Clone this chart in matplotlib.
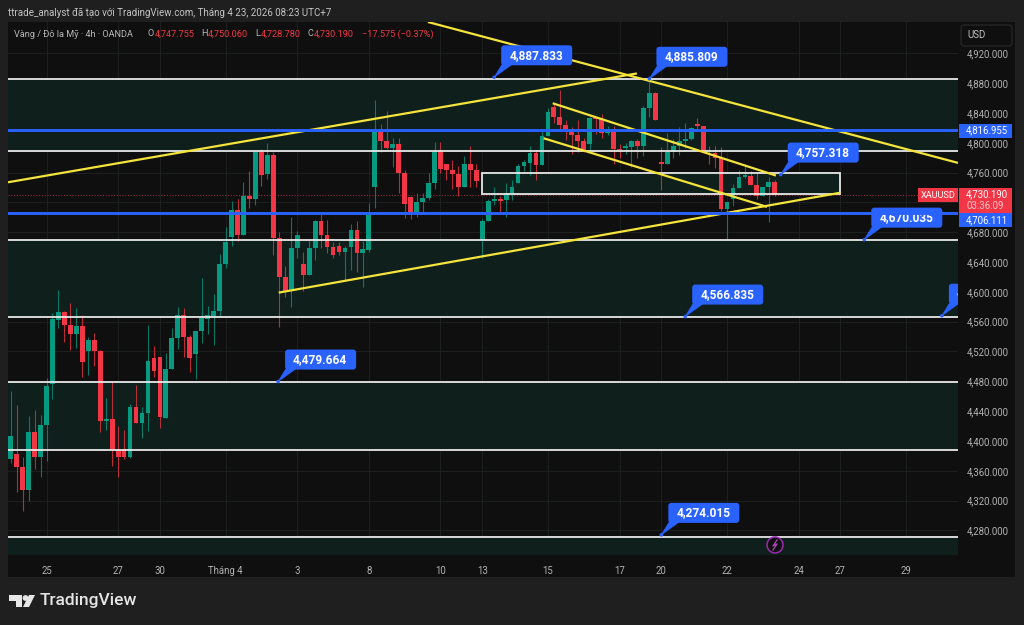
import matplotlib
matplotlib.use("Agg")
import matplotlib.pyplot as plt
from matplotlib.patches import Rectangle, FancyBboxPatch, Polygon, Circle
from matplotlib.transforms import IdentityTransform

plt.rcParams['font.family'] = ['Roboto', 'DejaVu Sans']

# 4h candles
opens = [4376,4383,4365,4334,4412,4379,4421,4477,4562,4573,4555,4544,4554,4521,4536,4520,4427,4429,4389,4389,
         4378,4446,4424,4438,4511,4512,4431,4497,4538,4569,4539,4517,4547,4564,4568,4574,4637,4674,4710,4676,
         4728,4724,4787,4758,4783,4672,4620,4602,4659,4637,4622,4659,4695,4676,4660,4662,4654,4660,4683,4652,
         4656,4741,4817,4803,4793,4799,4760,4727,4705,4720,4726,4746,4788,4771,4763,4758,4740,4771,4763,4670,
         4695,4722,4724,4723,4732,4746,4769,4773,4786,4770,4809,4848,4835,4824,4818,4811,4803,4798,4833,4832,
         4813,4815,4791,4793,4794,4802,4795,4846,4867,4774,4771,4788,4796,4803,4805,4825,4823,4788,4786,4779,
         4711,4725,4739,4754,4756,4744,4728,4741,4747.755]
highs = [4467,4448,4379,4434,4442,4435,4484,4571,4603,4574,4585,4579,4569,4539,4545,4522,4457,4480,4420,4415,
         4450,4475,4445,4555,4528,4513,4518,4551,4580,4578,4542,4547,4619,4581,4597,4651,4687,4722,4724,4747,
         4762,4789,4792,4800,4787,4680,4635,4700,4682,4654,4671,4697,4706,4697,4667,4667,4661,4691,4695,4668,
         4719,4857,4825,4843,4806,4806,4764,4728,4732,4732,4760,4801,4801,4771,4777,4769,4782,4795,4772,4698,
         4724,4740,4728,4746,4750,4771,4777,4796,4790,4819,4846,4854,4871,4830,4821,4830,4806,4834,4835,4838,
         4822,4823,4799,4800,4804,4805,4849,4889,4868,4794,4813,4805,4821,4827,4821,4833,4823,4796,4796,4794,
         4720,4745,4764,4771,4762,4760,4740,4754,4750.06]
lows = [4371,4331,4306,4320,4362,4351,4373,4456,4552,4533,4522,4525,4486,4489,4500,4412,4415,4367,4352,4376,
        4377,4424,4404,4414,4486,4418,4431,4497,4523,4513,4493,4483,4532,4544,4529,4568,4632,4662,4668,4676,
        4712,4716,4742,4752,4649,4553,4593,4580,4645,4601,4622,4643,4659,4652,4645,4649,4616,4629,4627,4607,
        4654,4713,4788,4791,4768,4732,4699,4698,4700,4704,4723,4738,4760,4750,4738,4729,4740,4740,4740,4645,
        4695,4716,4704,4701,4723,4746,4762,4757,4750,4770,4809,4826,4817,4804,4785,4788,4788,4790,4812,4806,
        4810,4772,4780,4785,4768,4779,4782,4835,4831,4737,4771,4779,4784,4793,4804,4818,4788,4772,4766,4708,
        4669,4715,4739,4753,4743,4724,4728,4694,4728.78]
closes = [4406,4365,4334,4412,4379,4421,4474,4563,4573,4555,4544,4554,4506,4536,4520,4427,4430,4388,4378,4378,
          4446,4424,4438,4507,4494,4432,4497,4538,4569,4539,4511,4547,4565,4569,4574,4637,4667,4710,4676,4728,
          4724,4787,4757,4783,4672,4620,4601,4659,4676,4622,4659,4695,4676,4660,4649,4654,4659,4683,4652,4657,
          4704,4817,4803,4793,4799,4760,4718,4706,4720,4726,4746,4788,4765,4763,4758,4740,4771,4763,4749,4695,
          4722,4724,4722,4732,4740,4769,4774,4786,4770,4809,4841,4835,4824,4818,4811,4803,4789,4833,4832,4813,
          4816,4791,4790,4795,4803,4795,4846,4867,4831,4772,4788,4796,4803,4805,4820,4823,4788,4787,4779,4711,
          4720,4739,4754,4757,4744,4728,4740,4747,4730.19]

price_ticks = list(range(4280, 4921, 40))
date_pos = [6, 18, 25, 36, 48, 60, 72, 79, 90, 102, 109, 120, 132, 139, 150]
date_labels = ['25', '27', '30', 'Tháng 4', '3', '8', '10', '13', '15', '17', '20', '22', '24', '27', '29']

white_levels = [4885.3, 4789, 4670, 4566.8, 4479.7, 4388, 4271]
blue_levels = [4816.955, 4706.111]
# zones shaded between the white levels
zones = [(4789, 4885.3), (4566.8, 4670), (4388, 4479.7), (4240, 4271)]
box_x = [79, 139]
box_p = [4731, 4759]

# yellow trend lines: bar, price, bar, price
trends = [(-0.45, 4747, 104.9, 4893),
          (69.9, 4962, 158.7, 4773),
          (90.8, 4853, 128.2, 4756),
          (89.3, 4806, 126.7, 4714),
          (44.9, 4599, 139, 4733)]

# price callouts: bar, price, text (the last one runs off the chart edge)
callouts = [(81, 4887.833, '4,887.833'), (107, 4885.809, '4,885.809'), (129, 4757.318, '4,757.318'),
            (143, 4670.035, '4,670.035'), (113, 4566.835, '4,566.835'), (44.8, 4479.664, '4,479.664'),
            (109, 4274.015, '4,274.015'), (156, 4568.0, '4')]

GREEN = '#089981'
RED = '#f23645'
BLUE = '#2962ff'
YELLOW = '#f4e43c'
BG = '#0f0f0f'
W, H = 1024, 625

fig = plt.figure(figsize=(W / 100, H / 100), dpi=100, facecolor='#1f1f1f')


def box(x0, y0, x1, y1):
    return [x0 / W, 1 - y1 / H, (x1 - x0) / W, (y1 - y0) / H]


back = fig.add_axes(box(8, 22, 1015, 576.5), facecolor=BG)
back.set_xticks([])
back.set_yticks([])
for s in back.spines.values():
    s.set_visible(False)

ax = fig.add_axes(box(8, 22, 958, 555), facecolor=BG)
ax.set_xlim(-0.45, 158.7)
ax.set_ylim(4247, 4962)
for s in ax.spines.values():
    s.set_visible(False)

ax.set_yticks(price_ticks)
# 4,720 sits behind the price tags in the picture
ax.set_yticklabels(['' if p == 4720 else '{:,.3f}'.format(p) for p in price_ticks])
ax.yaxis.tick_right()
ax.set_xticks(date_pos)
ax.set_xticklabels(date_labels)
ax.tick_params(axis='both', length=0, labelsize=6.9, labelcolor='#b2b2b2')
ax.tick_params(axis='y', pad=6)
ax.tick_params(axis='x', pad=8)
ax.grid(True, color='#1c2120', lw=0.7)
ax.set_axisbelow(True)

for lo, hi in zones:
    ax.axhspan(lo, hi, color='#0f1f1c', lw=0, zorder=1)
ax.add_patch(Rectangle((box_x[0], box_p[0]), box_x[1] - box_x[0], box_p[1] - box_p[0],
                       fc='#0f1f1c', ec='none', zorder=1))
ax.axhline(closes[-1], color='#8a2f3e', lw=0.8, ls=(0, (1, 1.5)), zorder=1.5)

# candles
for i in range(len(opens)):
    col = GREEN if closes[i] >= opens[i] else RED
    ax.vlines(i, lows[i], highs[i], color=col, lw=0.8, alpha=0.75, zorder=2)
    ax.bar(i, abs(closes[i] - opens[i]), bottom=min(opens[i], closes[i]), width=0.8,
           color=col, lw=0, zorder=3)

for lvl in white_levels:
    ax.axhline(lvl, color='#e8e8e8', lw=1.3, zorder=4)
ax.add_patch(Rectangle((box_x[0], box_p[0]), box_x[1] - box_x[0], box_p[1] - box_p[0],
                       fc='none', ec='#e8e8e8', lw=1.3, zorder=4))
for x0, p0, x1, p1 in trends:
    ax.plot([x0, x1], [p0, p1], color=YELLOW, lw=1.6, zorder=5, solid_capstyle='butt')


# callout: tail from the anchor point up to a rounded box
def callout(bar, price, text):
    x, y = ax.transData.transform((bar, price))
    tr = IdentityTransform()
    x0, x1 = x + 7, x + 78
    y0, y1 = y + 12, y + 32
    ax.add_patch(Polygon([(x, y), (x + 8, y0 + 1), (x + 18, y0 + 1)], fc=BLUE, ec=BLUE, lw=0.5,
                         transform=tr, zorder=6))
    ax.add_patch(FancyBboxPatch((x0 + 2, y0 + 2), x1 - x0 - 4, y1 - y0 - 4,
                                boxstyle='round,pad=2,rounding_size=3', fc=BLUE, ec='none',
                                transform=tr, zorder=6))
    ax.add_patch(Circle((x, y), 1.8, fc=BLUE, ec='none', transform=tr, zorder=6))
    ax.text(x0 + 8, (y0 + y1) / 2, text, color='white', fontsize=8.6, fontweight='bold',
            ha='left', va='center', transform=tr, zorder=6.5, clip_on=True)


for bar, price, text in callouts:
    callout(bar, price, text)

# blue levels sit on top of the callouts
for lvl in blue_levels:
    ax.axhline(lvl, color=BLUE, lw=2.1, zorder=7)

# overlay in pixels for the furniture around the chart
ov = fig.add_axes([0, 0, 1, 1], facecolor='none', zorder=10)
ov.set_xlim(0, W)
ov.set_ylim(H, 0)
ov.axis('off')

ov.text(8, 12.5, 'ttrade_analyst đã tạo với TradingView.com, Tháng 4 23, 2026 08:23 UTC+7',
        color='#c4c4c4', fontsize=7.0, va='center')
ov.text(14, 34, 'Vàng / Đô la Mỹ · 4h · OANDA', color='#b8b8b8', fontsize=6.6, va='center')
for x, s, c in [(147, 'O', '#b8b8b8'), (155, '4,747.755', RED), (201, 'H', '#b8b8b8'), (208, '4,750.060', RED),
                (255, 'L', '#b8b8b8'), (261, '4,728.780', RED), (308, 'C', '#b8b8b8'), (314, '4,730.190', RED),
                (362, '−17.575 (−0.37%)', RED)]:
    ov.text(x, 34, s, color=c, fontsize=6.6, va='center')

# price scale tags
ov.add_patch(FancyBboxPatch((963, 27), 47, 17, boxstyle='round,pad=2,rounding_size=3',
                            fc=BG, ec='#2a2a2a', lw=0.8))
ov.text(977, 35, 'USD', color='#c4c4c4', fontsize=6.9, ha='center', va='center')

ov.add_patch(Rectangle((918, 188), 40, 13.5, fc=RED, ec='none'))
ov.text(938.5, 195, 'XAUUSD', color='white', fontsize=6.6, ha='center', va='center')
ov.add_patch(Rectangle((959, 188), 53, 25, fc=RED, ec='none'))
ov.text(987, 194.5, '4,730.190', color='white', fontsize=6.9, ha='center', va='center')
ov.text(985, 206, '03:36:09', color='#f7c6cc', fontsize=6.9, ha='center', va='center')
ov.add_patch(Rectangle((959, 124), 53, 13.5, fc=BLUE, ec='none'))
ov.text(987, 130.5, '4,816.955', color='white', fontsize=6.9, ha='center', va='center')
ov.add_patch(Rectangle((959, 213), 53, 14, fc=BLUE, ec='none'))
ov.text(987, 220, '4,706.111', color='white', fontsize=6.9, ha='center', va='center')

# alert marker
ov.add_patch(Circle((775, 545), 8, fc=BG, ec='#9c27b0', lw=1.1))
ov.plot([777, 773, 777, 773], [540, 546, 544, 550], color='#ab47bc', lw=0.9)

# logo
ov.add_patch(Polygon([(9, 595), (22, 595), (22, 607), (16, 607), (16, 601), (9, 601)], fc='#e6e6e6', ec='none'))
ov.add_patch(Circle((25.5, 598), 2.9, fc='#e6e6e6', ec='none'))
ov.add_patch(Polygon([(29, 595), (35, 595), (29, 607), (23, 607)], fc='#e6e6e6', ec='none'))
ov.text(40, 601, 'TradingView', color='#e6e6e6', fontsize=12.5, fontweight='medium', va='center')

fig.savefig('out.png', dpi=100, facecolor=fig.get_facecolor())
